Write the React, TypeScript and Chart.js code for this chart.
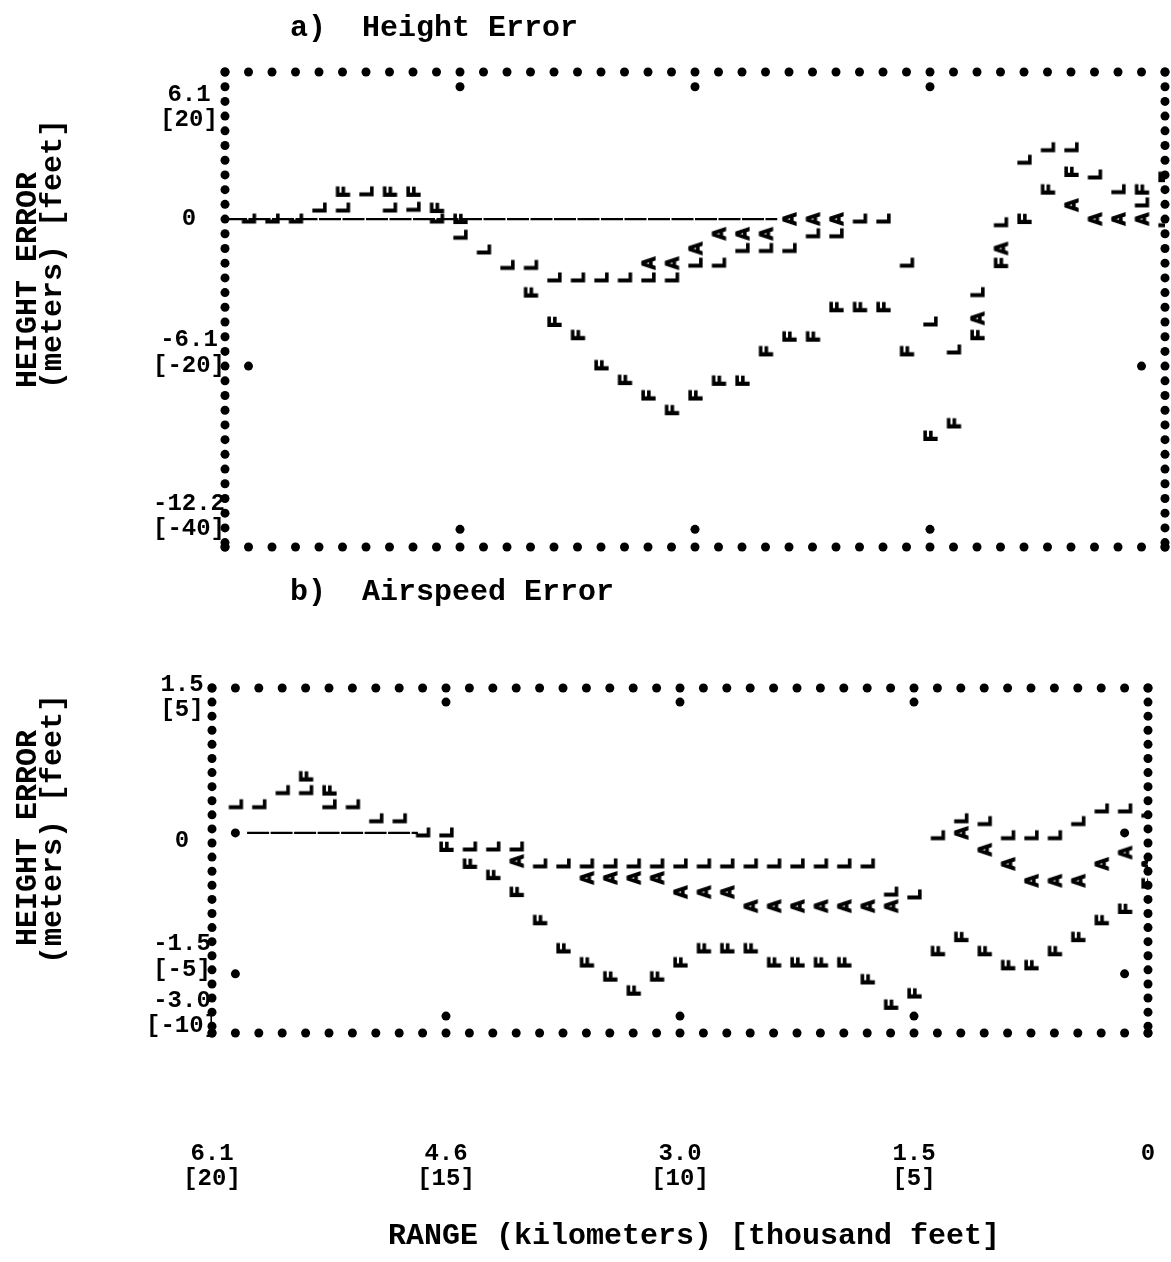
import React, { useEffect, useRef } from 'react';
import { Chart, registerables } from 'chart.js';

Chart.register(...registerables);

// Range in thousand feet, one value per printed line (20 kft at the left, 0 at the right)
const rangeKft = [
  20, 19.5, 19, 18.5, 18, 17.5, 17, 16.5, 16, 15.5,
  15, 14.5, 14, 13.5, 13, 12.5, 12, 11.5, 11, 10.5,
  10, 9.5, 9, 8.5, 8, 7.5, 7, 6.5, 6, 5.5,
  5, 4.5, 4, 3.5, 3, 2.5, 2, 1.5, 1, 0.5, 0,
];

// a) Height error, feet  (null = not visible in the print)
const heightL = [
  null, 0, 0, 0, 1.5, 1.5, 3.7, 1.5, 1.6, 0,
  -2.2, -4.2, -6.3, -6.3, -8, -8, -8, -8, -8, -8,
  -6, -6, -4, -4, -4, -2, -2, 0, 0, -6,
  -14, -17.8, -10, -0.5, 8, 9.7, 9.7, 6, 4, 2.2, -0.5,
];
const heightF = [
  null, null, null, null, null, 3.7, null, 3.7, 3.7, 1.5,
  0, null, null, -10, -14, -15.8, -19.9, -21.9, -24, -26,
  -24, -22, -22, -18, -16, -16, -12, -12, -12, -18,
  -29.5, -27.8, -15.8, -6, 0, 4, 6.4, null, null, 4, 5.7,
];
const heightA = [
  null, null, null, null, null, null, null, null, null, null,
  null, null, null, null, null, null, null, null, -6, -6,
  -4, -2, -2, -2, 0, 0, 0, null, null, null,
  null, null, -13.5, -4, null, null, 1.9, 0, 0, 0, null,
];
const heightZeroLine = [20, 8.25];

// b) Airspeed error, feet
const speedL = [
  null, 1, 1, 1.5, 1.5, 1, 1, 0.5, 0.5, 0,
  0, -0.5, -0.5, -0.5, -1.1, -1.1, -1.1, -1.1, -1.1, -1.1,
  -1.1, -1.1, -1.1, -1.1, -1.1, -1.1, -1.1, -1.1, -1.1, -2.1,
  -2.2, -0.1, 0.5, 0.4, -0.1, -0.1, -0.1, 0.4, 0.85, 0.85, 0.7,
];
const speedF = [
  null, null, null, null, 2, 1.5, null, null, null, null,
  -0.5, -1.1, -1.5, -2.1, -3.1, -4.1, -4.6, -5.1, -5.6, -5.1,
  -4.6, -4.1, -4.1, -4.1, -4.6, -4.6, -4.6, -4.6, -5.2, -6.1,
  -5.7, -4.2, -3.7, -4.2, -4.7, -4.7, -4.2, -3.7, -3.1, -2.7, -1.8,
];
const speedA = [
  null, null, null, null, null, null, null, null, null, null,
  null, null, null, -1, null, null, -1.6, -1.6, -1.6, -1.6,
  -2.1, -2.1, -2.1, -2.6, -2.6, -2.6, -2.6, -2.6, -2.6, -2.6,
  null, null, 0, -0.6, -1.1, -1.7, -1.7, -1.7, -1.1, -0.7, -1.1,
];
const speedZeroLine = [19.25, 15.6];

// Axis ticks
const xTickValues = [20, 15, 10, 5, 0];
const xTickLabels = [['6.1', '[20]'], ['4.6', '[15]'], ['3.0', '[10]'], ['1.5', '[5]'], '0'];
const heightTickValues = [15.2, 0, -18.2, -40.5];
const heightTickLabels = [['6.1', '[20]'], '0', ['-6.1', '[-20]'], ['-12.2', '[-40]']];
const speedTickValues = [4.8, -0.3, -4.4, -6.4];
const speedTickLabels = [['1.5', '[5]'], '0', ['-1.5', '[-5]'], ['-3.0', '[-10]']];

const MONO = '"Liberation Mono", "DejaVu Sans Mono", monospace';

function makeGlyph(letter: string): HTMLCanvasElement {
  const c = document.createElement('canvas');
  c.width = 22;
  c.height = 16;
  const g = c.getContext('2d')!;
  g.fillStyle = '#000';
  g.strokeStyle = '#000';
  g.lineWidth = 1.3;
  g.font = `bold 20px ${MONO}`;
  g.textAlign = 'center';
  g.textBaseline = 'alphabetic';
  g.translate(11, 8);
  g.rotate(-Math.PI / 2);
  g.fillText(letter, 0, 7);
  g.strokeText(letter, 0, 7);
  return c;
}

function toXY(vals: (number | null)[]) {
  const out: { x: number; y: number }[] = [];
  vals.forEach((v, i) => {
    if (v !== null) out.push({ x: rangeKft[i], y: v });
  });
  return out;
}

function framePlugin(rowStep: number, yTickDots: number[]) {
  return {
    id: 'printerFrame',
    beforeDatasetsDraw(chart: any) {
      const { ctx, chartArea, scales } = chart;
      const { left, right, top, bottom } = chartArea;
      const xs = scales.x;
      const ys = scales.y;
      ctx.save();
      ctx.fillStyle = '#000';
      const dot = (px: number, py: number, r = 4.5) => {
        ctx.beginPath();
        ctx.arc(px, py, r, 0, Math.PI * 2);
        ctx.fill();
      };
      rangeKft.forEach((v) => {
        const px = xs.getPixelForValue(v);
        dot(px, top);
        dot(px, bottom);
      });
      const rowPx = Math.abs(ys.getPixelForValue(0) - ys.getPixelForValue(rowStep));
      for (let py = top; py <= bottom + 0.5; py += rowPx) {
        dot(left, py);
        dot(right, py);
      }
      dot(left, bottom);
      dot(right, bottom);
      // inner tick marks
      [15, 10, 5].forEach((v) => {
        const px = xs.getPixelForValue(v);
        dot(px, top + rowPx);
        dot(px, bottom - rowPx * 1.2);
      });
      yTickDots.forEach((v) => {
        const py = ys.getPixelForValue(v);
        dot(xs.getPixelForValue(19.5), py);
        dot(xs.getPixelForValue(0.5), py);
      });
      ctx.restore();
    },
  };
}

function letterDatasets(L: (number | null)[], F: (number | null)[], A: (number | null)[], glyphs: any) {
  const base = { showLine: false, pointRadius: 8, pointHoverRadius: 8 };
  return [
    { ...base, label: 'A', data: toXY(A), pointStyle: glyphs.A, order: 3 },
    { ...base, label: 'F', data: toXY(F), pointStyle: glyphs.F, order: 2 },
    { ...base, label: 'L', data: toXY(L), pointStyle: glyphs.L, order: 1 },
  ];
}

function zeroLine(xr: number[]) {
  return {
    label: 'zero',
    data: xr.map((x) => ({ x, y: 0 })),
    borderColor: '#000',
    borderWidth: 2.2,
    borderDash: [22, 1.5],
    pointRadius: 0,
    order: 10,
  };
}

const App: React.FC = () => {
  const refA = useRef<HTMLCanvasElement>(null);
  const refB = useRef<HTMLCanvasElement>(null);

  useEffect(() => {
    const glyphs = { L: makeGlyph('L'), F: makeGlyph('F'), A: makeGlyph('A') };
    const tickFont = { family: MONO, size: 24, weight: 'bold' as const, lineHeight: 1.05 };

    const chartA = new Chart(refA.current!, {
      type: 'line',
      data: {
        datasets: [zeroLine(heightZeroLine), ...letterDatasets(heightL, heightF, heightA, glyphs)] as any,
      },
      options: {
        responsive: false,
        animation: false,
        events: [],
        layout: { autoPadding: false, padding: { top: 72, bottom: 600 - 547, left: 0, right: 1171 - 1165 } },
        plugins: { legend: { display: false }, tooltip: { enabled: false } },
        scales: {
          x: { type: 'linear', min: 0, max: 20, reverse: true, display: false },
          y: {
            type: 'linear',
            min: -44.6,
            max: 20,
            afterFit: (s: any) => { s.width = 225; s.paddingTop = 0; s.paddingBottom = 0; },
            afterBuildTicks: (s: any) => { s.ticks = heightTickValues.map((v) => ({ value: v })); },
            ticks: {
              autoSkip: false,
              color: '#000',
              font: tickFont,
              padding: 0,
              crossAlign: 'center',
              callback: (_v: any, i: number) => heightTickLabels[i] as any,
            },
            grid: { display: false, drawTicks: false },
            border: { display: false },
          },
        },
      } as any,
      plugins: [framePlugin(2, [-20])],
    });

    const chartB = new Chart(refB.current!, {
      type: 'line',
      data: {
        datasets: [zeroLine(speedZeroLine), ...letterDatasets(speedL, speedF, speedA, glyphs)] as any,
      },
      options: {
        responsive: false,
        animation: false,
        events: [],
        layout: { autoPadding: false, padding: { top: 688 - 600, bottom: 0, left: 0, right: 1171 - 1148 } },
        plugins: { legend: { display: false }, tooltip: { enabled: false } },
        scales: {
          x: {
            type: 'linear',
            min: 0,
            max: 20,
            reverse: true,
            afterFit: (s: any) => {
              s.height = 662 - (1033 - 600);
              s.paddingLeft = 0;
              s.paddingRight = 0;
            },
            afterBuildTicks: (s: any) => { s.ticks = xTickValues.map((v) => ({ value: v })); },
            ticks: {
              autoSkip: false,
              maxRotation: 0,
              color: '#000',
              font: tickFont,
              padding: 108,
              callback: (_v: any, i: number) => xTickLabels[i] as any,
            },
            grid: { display: false, drawTicks: false },
            border: { display: false },
          },
          y: {
            type: 'linear',
            min: -7.1,
            max: 5.14,
            afterFit: (s: any) => { s.width = 212; s.paddingTop = 0; s.paddingBottom = 0; },
            afterBuildTicks: (s: any) => { s.ticks = speedTickValues.map((v) => ({ value: v })); },
            ticks: {
              autoSkip: false,
              color: '#000',
              font: tickFont,
              padding: -6,
              crossAlign: 'center',
              callback: (_v: any, i: number) => speedTickLabels[i] as any,
            },
            grid: { display: false, drawTicks: false },
            border: { display: false },
          },
        },
      } as any,
      plugins: [framePlugin(0.5, [0, -5])],
    });

    return () => {
      chartA.destroy();
      chartB.destroy();
    };
  }, []);

  const textBase: React.CSSProperties = {
    position: 'absolute',
    fontFamily: MONO,
    fontWeight: 'bold',
    fontSize: 30,
    lineHeight: '30px',
    whiteSpace: 'pre',
    color: '#000',
  };
  const vText = (cx: number, cy: number): React.CSSProperties => ({
    ...textBase,
    left: cx,
    top: cy,
    transform: 'translate(-50%, -50%) rotate(-90deg)',
  });

  return (
    <div style={{ position: 'absolute', left: 0, top: 0, width: 1171, height: 1262, background: '#fff', overflow: 'hidden' }}>
      <canvas ref={refA} width={1171} height={600} style={{ position: 'absolute', left: 0, top: 0 }} />
      <canvas ref={refB} width={1171} height={662} style={{ position: 'absolute', left: 0, top: 600 }} />
      <div style={{ ...textBase, left: 290, top: 13 }}>a)  Height Error</div>
      <div style={{ ...textBase, left: 290, top: 577 }}>b)  Airspeed Error</div>
      <div style={vText(28, 280)}>HEIGHT ERROR</div>
      <div style={vText(53, 254)}>(meters) [feet]</div>
      <div style={vText(28, 838)}>HEIGHT ERROR</div>
      <div style={vText(53, 829)}>(meters) [feet]</div>
      <div style={{ ...textBase, left: 388, top: 1221 }}>RANGE (kilometers) [thousand feet]</div>
    </div>
  );
};

export default App;
